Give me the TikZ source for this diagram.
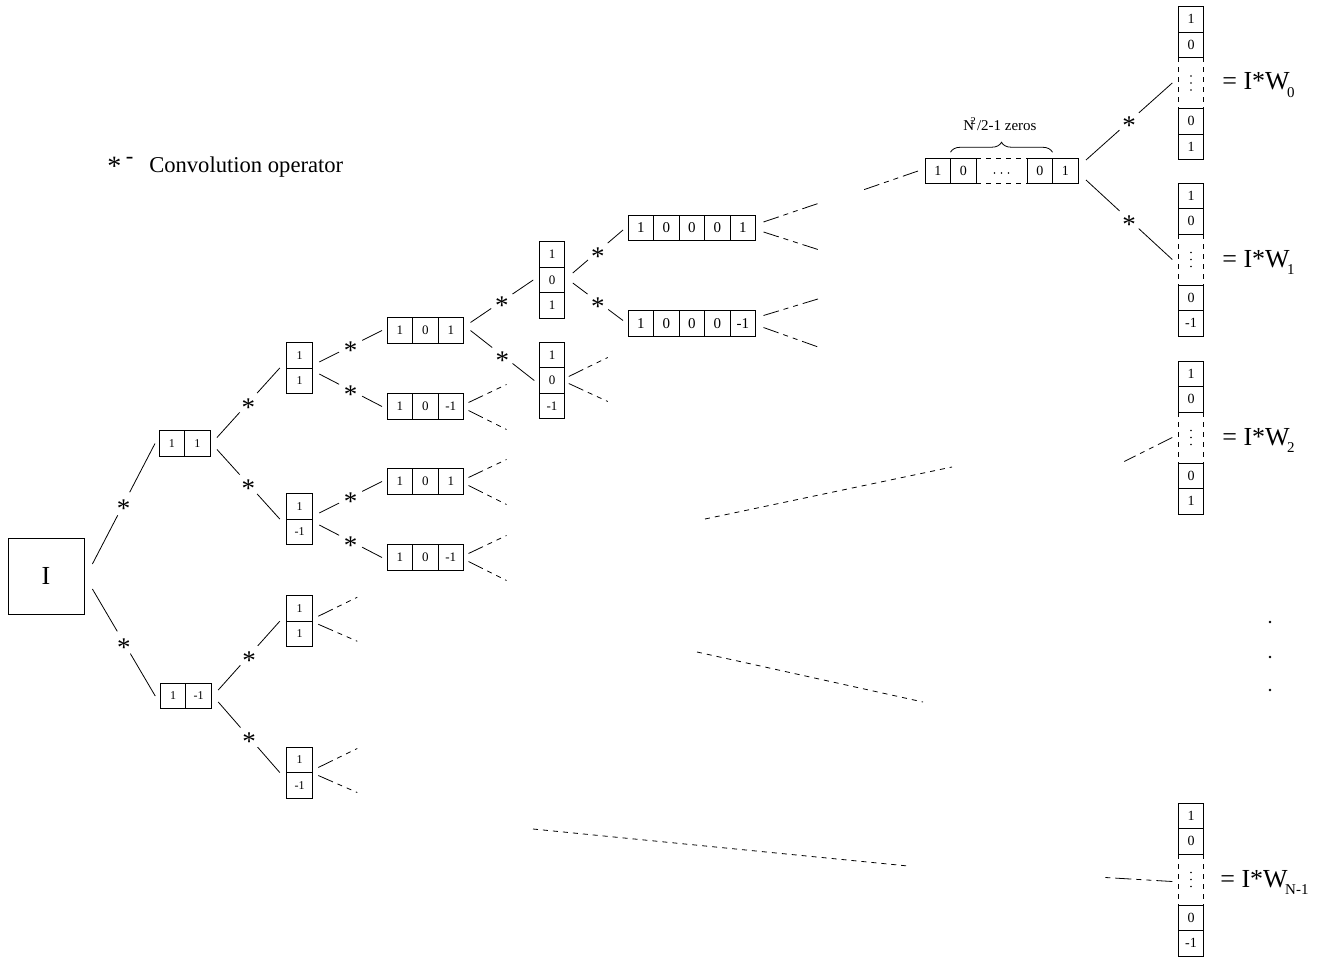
\documentclass[tikz,border=0pt]{standalone}
\usepackage{fontspec}
\setmainfont{Liberation Serif}
\usetikzlibrary{calc,decorations.pathreplacing}

\newcommand\fs[1]{\fontsize{#1}{#1}\selectfont}
% lowered index after W
\newcommand\lowidx[1]{\kern-0.1em\raisebox{-0.27em}{\fs{15}#1}}
% asterisk centred on its node
\newcommand\opstar{\smash{\raisebox{-0.5em}{*}}}

\tikzset{
  cell/.style={draw, minimum width=25.5pt, minimum height=25.5pt, inner sep=0pt, outer sep=0pt},
  dotcellv/.style={minimum width=25.5pt, minimum height=51pt, inner sep=0pt, outer sep=0pt},
  dotcellh/.style={minimum width=51pt, minimum height=25.5pt, inner sep=0pt, outer sep=0pt},
  dashside/.style={dash pattern=on 5pt off 5pt},
  link/.style={line width=0.8pt},
  conv/.style={circle, fill=white, minimum size=26pt, inner sep=0pt, font=\fs{27}, pos=0.5},
  stub/.style={line width=0.8pt, dash pattern=on 16pt off 5pt on 5pt off 5pt on 5pt off 5pt},
  farline/.style={line width=0.8pt, dash pattern=on 5pt off 5pt},
  eqtext/.style={anchor=base west, inner sep=0pt, font=\fs{26}},
}

% a row of cells, first cell centred at #2
\newcommand\rowvec[4]{%
  \foreach \e [count=\i] in {#4}
    \node[cell, font=\fs{#3}] (#1\i) at ($#2+({(\i-1)*25.5},0)$) {\e};
}
% a column of cells, first cell centred at #2
\newcommand\colvec[4]{%
  \foreach \e [count=\i] in {#4}
    \node[cell, font=\fs{#3}] (#1\i) at ($#2+(0,{(\i-1)*25.5})$) {\e};
}
% long column vector 1,0,...,0,last with top edge at y=#3
\newcommand\wvec[4]{%
  \node[cell, font=\fs{14}] (#1a) at (#2,{#3+12.75}) {1};
  \node[cell, font=\fs{14}] (#1b) at (#2,{#3+38.25}) {0};
  \node[dotcellv] (#1c) at (#2,{#3+76.5}) {};
  \node[cell, font=\fs{14}] (#1d) at (#2,{#3+114.75}) {0};
  \node[cell, font=\fs{14}] (#1e) at (#2,{#3+140.25}) {#4};
  \draw[dashside] (#1c.north west) -- (#1c.south west);
  \draw[dashside] (#1c.north east) -- (#1c.south east);
  \foreach \d in {-7,0,7} \fill ($(#1c.center)+(0,\d)$) circle (0.8pt);
}

\begin{document}
\begin{tikzpicture}[x=1pt, y=-1pt, line width=0.8pt]
\useasboundingbox (0,0) rectangle (1338,960);

% legend
\node[anchor=base west, inner sep=0pt, font=\fs{22.6}] (legend) at (107,173)
  {{\fs{28}\raisebox{-0.08em}{*}}\hspace{0.2em}\raisebox{0.42em}{-}\hspace{0.7em}Convolution operator};

% input
\node[draw, minimum size=76pt, inner sep=0pt, font=\fs{26}] (I) at (46,576) {I};

% level 1
\rowvec{L1a}{(171.75,443.5)}{12}{1,1}
\rowvec{L1b}{(173,696)}{12}{1,-1}
% level 2
\colvec{L2a}{(299.5,355.25)}{12}{1,1}
\colvec{L2b}{(299.5,506.25)}{12}{1,-1}
\colvec{L2c}{(299.5,608.5)}{12}{1,1}
\colvec{L2d}{(299.5,759.75)}{12}{1,-1}
% level 3
\rowvec{L3a}{(399.75,330.5)}{13}{1,0,1}
\rowvec{L3b}{(399.75,406.5)}{13}{1,0,-1}
\rowvec{L3c}{(399.75,481.5)}{13}{1,0,1}
\rowvec{L3d}{(399.75,557.5)}{13}{1,0,-1}
% level 4
\colvec{L4a}{(552,254.5)}{13}{1,0,1}
\colvec{L4b}{(552,355)}{13}{1,0,-1}
% level 5
\rowvec{L5a}{(640.75,228)}{15}{1,0,0,0,1}
\rowvec{L5b}{(640.75,323.5)}{15}{1,0,0,0,-1}

% long row vector
\node[cell, font=\fs{14}] (B1) at (937.75,171) {1};
\node[cell, font=\fs{14}] (B2) at (963.25,171) {0};
\node[dotcellh] (B3) at (1001.5,171) {};
\node[cell, font=\fs{14}] (B4) at (1039.75,171) {0};
\node[cell, font=\fs{14}] (B5) at (1065.25,171) {1};
\draw[dashside] (B3.north west) -- (B3.north east);
\draw[dashside] (B3.south west) -- (B3.south east);
\foreach \d in {-7,0,7} \fill ($(B3.center)+(\d,2)$) circle (0.8pt);
\draw[decorate, decoration={brace, amplitude=10pt}]
  ($(B2.north west)+(0,-6)$) -- ($(B4.north east)+(0,-6)$);
\node[font=\fs{15}, inner sep=0pt] (zeros) at (1000,124)
  {N\kern-0.25em\textsuperscript{2}\kern0.05em/2-1 zeros};

% result vectors
\wvec{W0}{1191}{6.5}{1}
\wvec{W1}{1191}{183}{-1}
\wvec{W2}{1191}{361}{1}
\wvec{WN}{1191}{803}{-1}
\node[eqtext] (e0) at (1222,90) {= I*W\lowidx{0}};
\node[eqtext] (e1) at (1222,267) {= I*W\lowidx{1}};
\node[eqtext] (e2) at (1222,445) {= I*W\lowidx{2}};
\node[eqtext] (eN) at (1220,887) {= I*W\lowidx{N-1}};

% convolutions
\draw[link] ($(I.east)+(8,-12)$) -- node[conv] (s1) {\opstar} ($(L1a1.west)+(-4,0)$);
\draw[link] ($(I.east)+(8,13)$) -- node[conv] (s2) {\opstar} ($(L1b1.west)+(-5,0)$);
\draw[link] ($(L1a2.east)+(7,-6)$) -- node[conv] (s3) {\opstar} ($(L2a1.south west)+(-7,0)$);
\draw[link] ($(L1a2.east)+(7,6)$) -- node[conv] (s4) {\opstar} ($(L2b1.south west)+(-7,0)$);
\draw[link] ($(L1b2.east)+(7,-6)$) -- node[conv] (s5) {\opstar} ($(L2c1.south west)+(-7,0)$);
\draw[link] ($(L1b2.east)+(7,6)$) -- node[conv] (s6) {\opstar} ($(L2d1.south west)+(-7,0)$);
\draw[link] ($(L2a1.south east)+(7,-6)$) -- node[conv] (s7) {\opstar} ($(L3a1.west)+(-5,0)$);
\draw[link] ($(L2a1.south east)+(7,6)$) -- node[conv] (s8) {\opstar} ($(L3b1.west)+(-5,0)$);
\draw[link] ($(L2b1.south east)+(7,-6)$) -- node[conv] (s9) {\opstar} ($(L3c1.west)+(-5,0)$);
\draw[link] ($(L2b1.south east)+(7,6)$) -- node[conv] (s10) {\opstar} ($(L3d1.west)+(-5,0)$);
\draw[link] ($(L3a3.east)+(7,-8)$) -- node[conv] (s11) {\opstar} ($(L4a2.west)+(-6,0)$);
\draw[link] ($(L3a3.east)+(7,0)$) -- node[conv] (s12) {\opstar} ($(L4b2.west)+(-5,0)$);
\draw[link] ($(L4a2.east)+(8,-7)$) -- node[conv] (s13) {\opstar} ($(L5a1.west)+(-5,2)$);
\draw[link] ($(L4a2.east)+(8,3)$) -- node[conv] (s14) {\opstar} ($(L5b1.west)+(-5,-3)$);
\draw[link] ($(B5.east)+(8,-11)$) -- node[conv] (s15) {\opstar} ($(W0c.west)+(-6,0)$);
\draw[link] ($(B5.east)+(8,9)$) -- node[conv] (s16) {\opstar} ($(W1c.west)+(-6,0)$);

% branches continuing beyond the drawing
\foreach \v in {L2c1,L2d1} {
  \draw[stub] ($(\v.south east)+(6,-5)$) -- ++(39,-19);
  \draw[stub] ($(\v.south east)+(6,3)$) -- ++(39,17);
}
\foreach \v in {L3b3,L3c3,L3d3} {
  \draw[stub] ($(\v.east)+(5,-4)$) -- ++(38,-18);
  \draw[stub] ($(\v.east)+(5,4)$) -- ++(38,19);
}
\draw[stub] ($(L4b2.east)+(4,-4)$) -- ++(39,-19);
\draw[stub] ($(L4b2.east)+(4,3)$) -- ++(39,18);
\draw[stub] ($(L5a5.east)+(8,-6)$) -- ++(56,-19);
\draw[stub] ($(L5a5.east)+(8,4)$) -- ++(56,18);
\draw[stub] ($(L5b5.east)+(8,-8)$) -- ++(56,-17);
\draw[stub] ($(L5b5.east)+(8,4)$) -- ++(56,20);
\draw[stub] ($(B1.west)+(-7,0)$) -- ++(-55,19);
\draw[stub] ($(W2c.west)+(-6,0)$) -- ++(-48,24);
\draw[stub] ($(WNc.west)+(-6,2)$) -- ++(-67,-4);

% intermediate levels left out
\coordinate (f1a) at (705,519); \coordinate (f1b) at (952,467);
\coordinate (f2a) at (697,652); \coordinate (f2b) at (923,702);
\coordinate (f3a) at (533,829); \coordinate (f3b) at (908,866);
\draw[farline] (f1a) -- (f1b);
\draw[farline] (f2a) -- (f2b);
\draw[farline] (f3a) -- (f3b);

% vertical ellipsis
\foreach \yy in {622,657,690} \fill (1270,\yy) circle (1.3pt);
\end{tikzpicture}
\end{document}
